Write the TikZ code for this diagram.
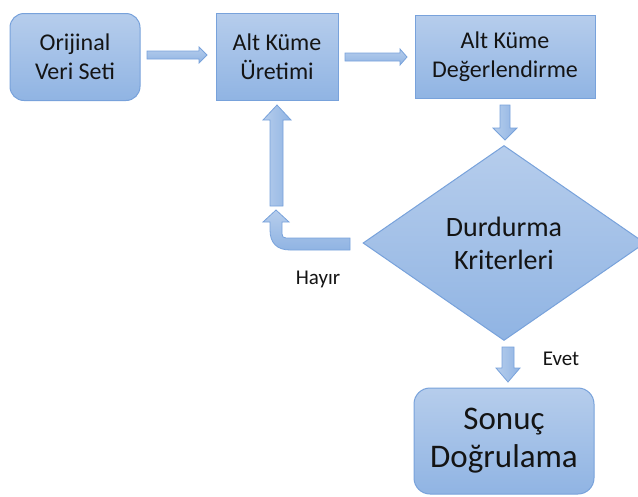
\documentclass[tikz,border=0pt]{standalone}
\usepackage{fontspec}
\setmainfont{Carlito}
\usetikzlibrary{shapes.geometric}
\definecolor{ftop}{RGB}{182,205,236}
\definecolor{fbot}{RGB}{144,180,227}
\definecolor{edge}{RGB}{120,162,219}
\definecolor{txt}{RGB}{20,20,20}
\tikzset{
  boxbase/.style={draw=edge, line width=1pt, top color=ftop, bottom color=fbot, text=txt, align=center, inner sep=0pt},
  roundbox/.style={boxbase, rounded corners=14pt},
  sqbox/.style={boxbase},
  boxtext/.style={font=\fontsize{24}{29}\selectfont},
  arr/.style={draw=edge, line width=0.8pt, top color=ftop, bottom color=fbot},
  varr/.style={draw=edge, line width=0.8pt, left color=ftop, right color=fbot},
  lbl/.style={font=\fontsize{21}{24}\selectfont, text=txt, inner sep=0pt},
}
\begin{document}
\begin{tikzpicture}[x=1pt,y=-1pt]
\useasboundingbox (0,0) rectangle (638,496);
% boxes
\node[roundbox, boxtext, minimum width=130pt, minimum height=87pt] (orj) at (75,57) {Orijinal\\Veri Seti};
\node[sqbox, boxtext, minimum width=122pt, minimum height=87pt] (uret) at (277,56.5) {Alt Küme\\Üretimi};
\node[sqbox, boxtext, minimum width=180pt, minimum height=83pt] (deg) at (505,56.5) {Alt Küme\\Değerlendirme};
\node[boxbase, shape=diamond, aspect=1.45, minimum width=282pt, minimum height=195pt,
      font=\fontsize{28}{33}\selectfont] (dur) at (504,243) {Durdurma\\Kriterleri};
\node[roundbox, rounded corners=16pt, minimum width=180pt, minimum height=106pt,
      font=\fontsize{33}{38}\selectfont] (son) at (504,441) {Sonuç\\Doğrulama};
% labels
\node[lbl] (hayir) at (318,279) {Hayır};
\node[lbl] (evet) at (561,359) {Evet};
% block arrows
\path[arr] (147,51) -- (199,51) -- (199,47) -- (207,55) -- (199,63) -- (199,59) -- (147,59) -- cycle;
\path[arr] (345,53) -- (400,53) -- (400,49) -- (407,57) -- (400,65) -- (400,61) -- (345,61) -- cycle;
\path[varr] (500,105) -- (510,105) -- (510,128) -- (517,128) -- (505,140) -- (493,128) -- (500,128) -- cycle;
\path[varr] (270,206) -- (283,206) -- (283,120) -- (291,120) -- (277,105) -- (263,120) -- (270,120) -- cycle;
\path[varr] (502,347) -- (514,347) -- (514,368) -- (520,368) -- (508,382) -- (496,368) -- (502,368) -- cycle;
% bent arrow (Hayır loop)
\path[arr] (350,238) -- (286,238) .. controls (283.5,238) and (282,236.5) .. (282,234)
  -- (282,222) -- (289,222) -- (276,210) -- (263,222) -- (270,222) -- (270,230)
  .. controls (270,243) and (277,250) .. (290,250) -- (350,250) -- cycle;
\end{tikzpicture}
\end{document}
